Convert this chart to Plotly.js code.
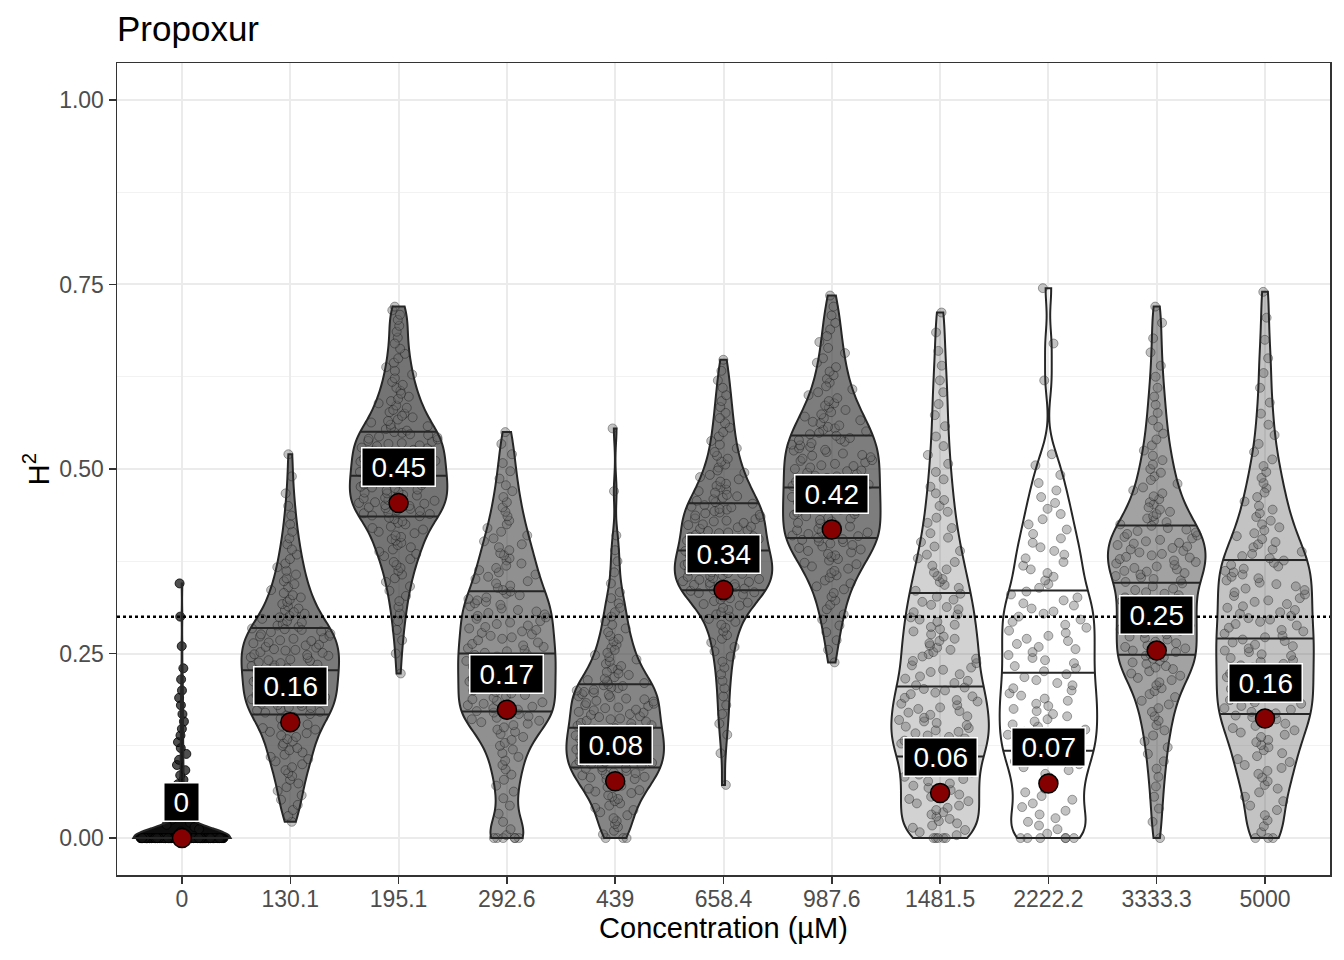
<!DOCTYPE html>
<html><head><meta charset="utf-8">
<script src="https://cdn.plot.ly/plotly-3.0.1.min.js"></script>
<style>html,body{margin:0;padding:0;background:#fff}#chart{width:1344px;height:960px}</style>
</head><body><div id="chart"></div>
<script>
// ---- data ----
const concentrations = ['0','130.1','195.1','292.6','439','658.4','987.6','1481.5','2222.2','3333.3','5000'];
const h2Estimates = [0, 0.157, 0.454, 0.174, 0.077, 0.336, 0.418, 0.061, 0.074, 0.254, 0.162];
const threshold = 0.3;

const samples0 = [
0,0,0,0,0,0,0,0,0,0, 0,0,0,0,0,0,0,0,0,0, 0,0,0,0,0,0,0,0,0,0, 0,0,0,0,0,0,0,0,0,0, 0,0,0,0,0,0,0,0,0,0,
0,0,0,0,0,0,0,0,0,0, 0,0,0,0,0,0,0,0,0,0, 0,0,0,0,0,0,0,0,0,0, 0,0,0,0,0,0,0,0,0,0, 0,0,0,0,0,0,0,0,0,0,
0,0,0,0,0,0,0,0,0,0, 0,0,0,0,0,0,0,0,0,0, 0,0,0,0,0,0,0,0,0,0, 0,0,0,0,0,0,0,0,0,0, 0,0,0,0,0,0,0,0,0,0,
.003,.006,.009,.012,.015,.018,.021,.025,.029,.033,.037,.041,.046,.051,.056,.061,.067,.073,.079,.085,
.092,.099,.106,.114,.122,.130,.139,.148,.158,.168,.18,.19,.2,.215,.23,.26,.3,.345];
const samples130 = [
.022,.030,.038,.045,.052,.058,.064,.069,.074,.079,.084,.088,.092,.096,.100,.104,.107,.110,.113,.116,.119,.122,.125,.128,.131,.134,.137,.139,.142,.144,.147,.149,.152,.154,.156,.158,.160,.162,.164,.166,
.168,.170,.171,.173,.174,.176,.177,.179,.180,.182,.183,.185,.186,.188,.189,.191,.192,.194,.195,.197,.198,.200,.201,.203,.204,.206,.207,.209,.210,.212,.213,.215,.216,.218,.219,.221,.222,.224,.225,.227,
.228,.230,.231,.233,.234,.235,.237,.238,.240,.241,.242,.244,.245,.247,.248,.249,.251,.252,.254,.255,.256,.258,.259,.261,.262,.264,.265,.267,.268,.270,.271,.273,.274,.276,.277,.279,.280,.282,.283,.284,
.286,.288,.290,.292,.294,.297,.299,.301,.304,.306,.309,.311,.314,.317,.320,.323,.326,.329,.332,.336,.340,.344,.348,.352,.357,.362,.367,.372,.378,.384,.391,.398,.406,.415,.425,.437,.450,.467,.490,.520];
const samples195 = [
.223,.250,.268,.282,.294,.304,.313,.321,.328,.335,.341,.347,.352,.357,.362,.366,.370,.374,.378,.382,.385,.388,.391,.394,.397,.400,.403,.405,.408,.410,.413,.415,.418,.420,.422,.425,.427,.429,.432,.434,
.436,.437,.439,.440,.441,.443,.444,.446,.447,.448,.450,.451,.453,.454,.455,.457,.458,.460,.461,.462,.464,.465,.467,.468,.469,.471,.472,.474,.475,.476,.478,.479,.481,.482,.483,.485,.486,.488,.489,.490,
.492,.493,.495,.496,.498,.499,.501,.502,.504,.505,.507,.508,.510,.511,.513,.514,.516,.517,.519,.520,.522,.523,.525,.526,.528,.529,.531,.532,.534,.535,.537,.538,.540,.541,.543,.544,.546,.547,.549,.550,
.552,.554,.556,.558,.560,.563,.565,.567,.570,.572,.575,.577,.580,.583,.586,.589,.592,.595,.598,.602,.606,.610,.614,.618,.623,.628,.633,.638,.644,.650,.656,.663,.670,.678,.686,.694,.702,.709,.715,.720];
const samples292 = [
0,0,0,0,0,0,.004,.012,.022,.033,.044,.054,.063,.071,.079,.086,.093,.099,.105,.110,.115,.120,.125,.129,.133,.137,.141,.144,.147,.150,.153,.155,.157,.159,.161,.163,.165,.167,.168,.170,
.172,.174,.176,.178,.180,.182,.184,.186,.188,.190,.192,.194,.196,.198,.200,.202,.204,.206,.208,.210,.212,.214,.216,.218,.220,.222,.224,.226,.228,.230,.232,.234,.236,.238,.240,.242,.244,.246,.248,.249,
.251,.253,.255,.257,.259,.261,.263,.265,.268,.270,.272,.274,.276,.278,.280,.282,.284,.286,.288,.290,.292,.294,.297,.299,.301,.303,.305,.307,.309,.311,.314,.316,.318,.320,.322,.324,.326,.329,.331,.334,
.336,.339,.342,.345,.348,.351,.354,.357,.360,.363,.366,.369,.372,.376,.379,.383,.386,.390,.394,.398,.402,.406,.410,.415,.420,.425,.430,.436,.442,.448,.455,.462,.470,.478,.487,.497,.508,.520,.534,.550];
const samples439 = [
0,0,0,.005,.010,.015,.019,.023,.027,.031,.035,.038,.041,.044,.047,.050,.053,.056,.058,.061,.063,.065,.067,.069,.071,.073,.075,.077,.079,.080,.082,.083,.085,.086,.088,.089,.091,.092,.094,.095,
.096,.098,.099,.100,.102,.103,.104,.106,.107,.108,.110,.111,.112,.114,.115,.116,.118,.119,.120,.122,.123,.124,.126,.127,.128,.130,.131,.132,.134,.135,.136,.138,.139,.140,.142,.143,.144,.146,.147,.149,
.150,.152,.153,.155,.156,.158,.159,.161,.162,.164,.165,.167,.168,.170,.171,.173,.174,.176,.177,.179,.180,.182,.183,.185,.186,.188,.189,.191,.192,.194,.195,.197,.198,.200,.201,.203,.204,.206,.207,.208,
.210,.212,.214,.216,.218,.221,.223,.225,.228,.230,.233,.236,.239,.242,.245,.248,.251,.255,.258,.262,.266,.270,.274,.279,.284,.289,.294,.300,.306,.312,.318,.325,.333,.345,.36,.375,.39,.41,.47,.555];
const samples658 = [
.072,.115,.140,.155,.168,.180,.192,.203,.213,.222,.231,.239,.246,.253,.259,.265,.270,.275,.280,.285,.289,.293,.297,.300,.303,.306,.309,.312,.315,.317,.319,.321,.323,.325,.327,.329,.330,.332,.333,.335,
.336,.338,.339,.340,.342,.343,.344,.346,.347,.348,.350,.351,.352,.354,.355,.356,.358,.359,.360,.362,.363,.364,.366,.367,.368,.370,.371,.372,.374,.375,.376,.378,.379,.380,.382,.383,.384,.386,.387,.389,
.390,.392,.393,.395,.397,.398,.400,.401,.403,.405,.406,.408,.409,.411,.413,.414,.416,.417,.419,.421,.422,.424,.425,.427,.429,.430,.432,.433,.435,.437,.438,.440,.441,.443,.445,.446,.448,.449,.451,.453,
.455,.457,.459,.461,.463,.465,.468,.470,.472,.475,.477,.480,.483,.486,.489,.492,.495,.498,.502,.506,.510,.514,.518,.523,.528,.533,.538,.544,.550,.556,.562,.569,.576,.584,.592,.600,.610,.620,.633,.648];
const samples987 = [
.238,.255,.268,.279,.288,.296,.303,.310,.316,.322,.327,.332,.337,.341,.345,.349,.353,.356,.359,.362,.365,.368,.371,.373,.376,.378,.381,.383,.385,.387,.389,.391,.393,.395,.397,.399,.401,.402,.404,.405,
.407,.409,.410,.412,.414,.415,.417,.419,.421,.422,.424,.426,.427,.429,.431,.433,.434,.436,.438,.439,.441,.443,.445,.446,.448,.450,.451,.453,.455,.457,.458,.460,.462,.463,.465,.467,.469,.470,.472,.474,
.476,.477,.479,.481,.483,.484,.486,.488,.490,.491,.493,.495,.497,.498,.500,.502,.504,.505,.507,.509,.511,.512,.514,.516,.518,.519,.521,.523,.525,.526,.528,.530,.532,.533,.535,.537,.539,.540,.542,.545,
.547,.549,.551,.553,.555,.557,.559,.562,.564,.566,.569,.571,.574,.577,.580,.583,.586,.589,.592,.596,.600,.604,.608,.612,.617,.622,.627,.632,.638,.644,.650,.657,.664,.672,.680,.689,.698,.708,.720,.735];
const samples1481 = [
0,0,0,0,0,.004,.008,.011,.014,.017,.020,.023,.026,.029,.032,.035,.038,.041,.044,.047,.050,.053,.056,.059,.062,.065,.068,.071,.074,.077,.080,.083,.086,.089,.092,.095,.098,.101,.105,.109,
.111,.114,.116,.118,.121,.123,.125,.128,.130,.132,.135,.137,.139,.142,.144,.146,.149,.151,.153,.156,.158,.160,.163,.165,.167,.170,.172,.175,.177,.180,.182,.185,.187,.190,.192,.195,.197,.200,.202,.204,
.207,.210,.213,.216,.219,.222,.225,.228,.231,.234,.237,.240,.243,.246,.249,.252,.255,.258,.261,.264,.267,.270,.273,.276,.280,.283,.286,.289,.293,.296,.299,.303,.306,.310,.313,.316,.320,.323,.327,.331,
.335,.339,.343,.347,.351,.355,.360,.364,.369,.374,.379,.384,.389,.395,.401,.407,.413,.420,.427,.434,.442,.450,.458,.467,.476,.486,.496,.507,.519,.531,.544,.558,.573,.588,.604,.620,.640,.660,.685,.712];
const samples2222 = [
0,0,0,0,0,0,.006,.012,.017,.022,.027,.032,.037,.042,.047,.052,.057,.062,.067,.072,.077,.082,.087,.092,.096,.100,.104,.108,.112,.116,
.119,.123,.126,.130,.133,.137,.140,.144,.147,.151,.154,.158,.161,.165,.168,.172,.175,.179,.182,.186,.189,.193,.196,.200,.203,.207,.210,.214,.218,.222,
.226,.230,.233,.237,.241,.244,.248,.252,.256,.259,.263,.267,.270,.274,.278,.281,.285,.289,.293,.296,.300,.304,.307,.311,.315,.318,.322,.326,.330,.334,
.339,.344,.349,.354,.359,.364,.369,.374,.379,.384,.389,.394,.400,.406,.412,.418,.425,.432,.439,.446,.454,.462,.471,.481,.492,.505,.52,.62,.67,.745];
const samples3333 = [
0,.022,.040,.056,.070,.083,.094,.104,.114,.123,.131,.139,.146,.153,.159,.165,.171,.176,.181,.186,.191,.195,.199,.203,.207,.211,.214,.217,.220,.223,.226,.229,.231,.233,.236,.238,.240,.243,.245,.247,
.249,.252,.254,.257,.259,.261,.264,.266,.269,.271,.273,.276,.278,.281,.283,.285,.288,.290,.293,.295,.297,.300,.302,.305,.307,.309,.312,.314,.317,.319,.321,.324,.326,.329,.331,.333,.336,.338,.341,.345,
.347,.349,.351,.353,.355,.357,.359,.361,.362,.364,.366,.368,.370,.372,.374,.376,.378,.380,.381,.383,.385,.387,.389,.391,.393,.395,.397,.399,.400,.402,.404,.406,.408,.410,.412,.414,.416,.418,.420,.423,
.425,.428,.430,.433,.436,.439,.442,.445,.448,.452,.455,.459,.463,.467,.471,.475,.480,.485,.490,.495,.500,.506,.512,.518,.525,.532,.540,.548,.557,.566,.576,.587,.598,.610,.625,.640,.658,.677,.698,.720];
const samples5000 = [
0,0,0,.008,.016,.024,.031,.038,.044,.050,.056,.062,.067,.072,.077,.082,.087,.091,.095,.099,.103,.107,.111,.115,.119,.123,.126,.130,.133,.137,.140,.143,.146,.149,.152,.155,.158,.161,.164,.166,
.169,.171,.174,.176,.179,.182,.184,.187,.189,.192,.195,.197,.200,.202,.205,.208,.210,.213,.215,.218,.221,.223,.226,.228,.231,.234,.236,.239,.241,.244,.247,.249,.252,.254,.257,.260,.262,.265,.267,.269,
.272,.274,.277,.280,.282,.285,.288,.290,.293,.296,.298,.301,.304,.306,.309,.312,.314,.317,.320,.322,.325,.328,.330,.333,.336,.338,.341,.344,.346,.349,.352,.354,.357,.360,.362,.365,.368,.370,.373,.376,
.379,.382,.385,.388,.391,.394,.398,.401,.405,.409,.413,.417,.421,.425,.430,.435,.440,.445,.450,.456,.462,.468,.474,.481,.488,.496,.504,.513,.523,.534,.546,.56,.575,.59,.61,.63,.65,.675,.705,.74];

const samplesByGroup = [samples0, samples130, samples195, samples292, samples439, samples658,
  samples987, samples1481, samples2222, samples3333, samples5000];

// ---- styling ----
const FONT = 'Liberation Sans, Arial, Helvetica, sans-serif';
const VIOLIN_WIDTH = 0.9;
const bandwidths = [0.013, 0.02, 0.02, 0.022, 0.02, 0.02, 0.022, 0.024, 0.025, 0.022, 0.024];
// shading under the points, standing in for the heavy over-plotting of the original
const violinShade = ['rgba(0,0,0,0.95)', 'rgba(70,70,70,0.72)', 'rgba(70,70,70,0.75)', 'rgba(70,70,70,0.6)',
  'rgba(70,70,70,0.66)', 'rgba(70,70,70,0.72)', 'rgba(70,70,70,0.7)', 'rgba(90,90,90,0.27)', 'rgba(0,0,0,0)',
  'rgba(70,70,70,0.5)', 'rgba(80,80,80,0.34)'];
const pointFill = ['rgba(20,20,20,0.75)', 'rgba(110,110,110,0.42)'];
const pointLine = ['rgba(0,0,0,0.8)', 'rgba(0,0,0,0.33)'];
const OUTLINE = '#262626';
const JITTER_CLASSES = 5;

function quantile(arr, p) {
  const s = arr.slice().sort((a, b) => a - b);
  const h = (s.length - 1) * p, lo = Math.floor(h), hi = Math.ceil(h);
  return s[lo] + (s[hi] - s[lo]) * (h - lo);
}
function makeKDE(vals, bw) {
  const f = 1 / (vals.length * bw * Math.sqrt(2 * Math.PI));
  return x => { let s = 0; for (const v of vals) { const u = (x - v) / bw; s += Math.exp(-0.5 * u * u); } return f * s; };
}

const fillTraces = [], pointTraces = [], outlineTraces = [];
const qx = [], qy = [];
samplesByGroup.forEach((vals, i) => {
  const bw = bandwidths[i];
  const kde = makeKDE(vals, bw);
  const mn = Math.min(...vals), mx = Math.max(...vals);
  const n = Math.ceil((mx - mn) / (bw / 3)), step = (mx - mn) / n;
  let maxK = 0;
  for (let t = mn; t < mx + step / 2; t += step) maxK = Math.max(maxK, kde(t));
  const base = {type: 'violin', x0: i, y: vals, width: VIOLIN_WIDTH, spanmode: 'hard', bandwidth: bw,
    showlegend: false, hoverinfo: 'skip', name: concentrations[i]};

  fillTraces.push(Object.assign({}, base, {points: false, line: {width: 0, color: 'rgba(0,0,0,0)'},
    fillcolor: violinShade[i]}));

  // points: grouped by local violin width so the library jitter stays inside the outline
  const classes = Array.from({length: JITTER_CLASSES}, () => []);
  vals.forEach(v => {
    const r = Math.min(1, kde(v) / maxK);
    const k = Math.min(JITTER_CLASSES - 1, Math.floor(r * JITTER_CLASSES));
    classes[k].push(v);
  });
  const ps = i === 0 ? 0 : 1;
  classes.forEach((sub, k) => {
    if (!sub.length) return;
    pointTraces.push(Object.assign({}, base, {y: sub, name: concentrations[i] + '_' + k,
      points: 'all', pointpos: 0, jitter: 0.9 * (k + 0.75) / JITTER_CLASSES,
      line: {width: 0, color: 'rgba(0,0,0,0)'}, fillcolor: 'rgba(0,0,0,0)',
      marker: {size: 9, color: pointFill[ps], line: {color: pointLine[ps], width: 1}}}));
  });
  outlineTraces.push(Object.assign({}, base, {points: false, line: {width: 2, color: OUTLINE},
    fillcolor: 'rgba(0,0,0,0)'}));

  // quartile lines spanning the violin width at each quantile
  [0.25, 0.5, 0.75].forEach(p => {
    const q = quantile(vals, p);
    const hw = VIOLIN_WIDTH / 2 * Math.min(1, kde(q) / maxK);
    qx.push(i - hw, i + hw, null); qy.push(q, q, null);
  });
});

const traces = fillTraces.concat(pointTraces, outlineTraces);
traces.push({type: 'scatter', mode: 'lines', x: qx, y: qy, line: {color: OUTLINE, width: 2},
  showlegend: false, hoverinfo: 'skip'});
traces.push({type: 'scatter', mode: 'markers', x: concentrations.map((c, i) => i), y: h2Estimates,
  marker: {size: 19, color: '#850000', line: {color: '#000', width: 1.5}}, showlegend: false, hoverinfo: 'skip'});

const labelText = h2Estimates.map(v => String(Math.round(v * 100) / 100));
const annotations = h2Estimates.map((v, i) => {
  const t = labelText[i];
  const digits = t.replace('.', '').length, dots = t.length - digits;
  return {x: i, y: v, xref: 'x', yref: 'y', text: t, showarrow: false, yshift: 36,
    font: {family: FONT, size: 28, color: '#fff'}, bgcolor: '#000', bordercolor: '#fff',
    borderwidth: 1.5, borderpad: 3, width: 28 * (0.556 * digits + 0.278 * dots) + 12, height: 31};
});

const layout = {
  width: 1344, height: 960,
  margin: {l: 117, r: 14, t: 63, b: 85},
  paper_bgcolor: '#fff', plot_bgcolor: '#fff',
  font: {family: FONT, color: '#000'},
  violinmode: 'overlay',
  title: {text: 'Propoxur', x: 0, xref: 'paper', xanchor: 'left', y: 0.97, yref: 'container', yanchor: 'middle',
    font: {family: FONT, size: 35, color: '#000'}},
  xaxis: {range: [-0.6, 10.6], tickvals: concentrations.map((c, i) => i), ticktext: concentrations,
    showgrid: true, gridcolor: '#ebebeb', gridwidth: 2, zeroline: false,
    showline: true, mirror: true, linecolor: '#333', linewidth: 1.5,
    ticks: 'outside', ticklen: 7, tickwidth: 1.5, tickcolor: '#333', ticklabelstandoff: -4,
    tickfont: {family: FONT, size: 23, color: '#4d4d4d'},
    title: {text: 'Concentration (µM)', standoff: 4, font: {family: FONT, size: 29, color: '#000'}}},
  yaxis: {range: [-0.05, 1.05], tick0: 0, dtick: 0.25, tickformat: '.2f',
    showgrid: true, gridcolor: '#ebebeb', gridwidth: 2, zeroline: false,
    minor: {tick0: 0, dtick: 0.125, showgrid: true, gridcolor: '#f2f2f2', gridwidth: 1, ticks: ''},
    showline: true, mirror: true, linecolor: '#333', linewidth: 1.5,
    ticks: 'outside', ticklen: 7, tickwidth: 1.5, tickcolor: '#333',
    tickfont: {family: FONT, size: 23, color: '#4d4d4d'},
    title: {text: 'H<sup>2</sup>', font: {family: FONT, size: 29, color: '#000'}}},
  shapes: [{type: 'line', xref: 'paper', x0: 0, x1: 1, yref: 'y', y0: threshold, y1: threshold,
    line: {color: '#000', width: 2.5, dash: 'dot'}, layer: 'above'}],
  annotations: annotations
};

Plotly.newPlot('chart', traces, layout, {staticPlot: true, displayModeBar: false});
</script></body></html>
